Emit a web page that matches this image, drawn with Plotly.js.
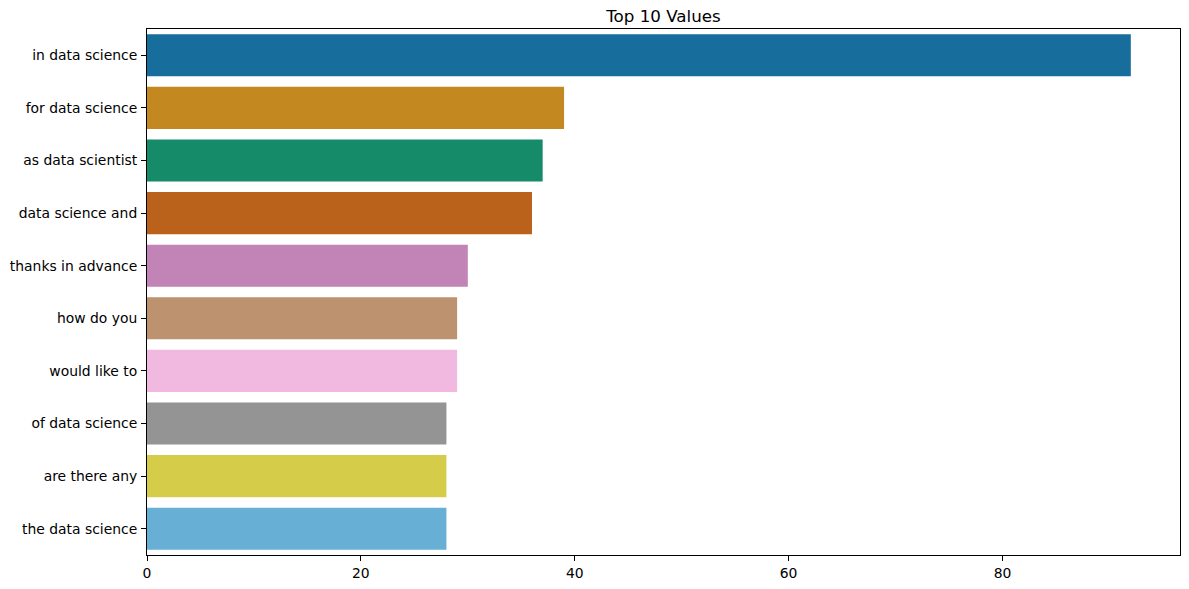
<!DOCTYPE html>
<html>
<head>
<meta charset="utf-8">
<script src="https://cdn.plot.ly/plotly-3.0.1.min.js"></script>
<style>
  html, body { margin: 0; padding: 0; background: #fff; }
  #chart { width: 1189px; height: 589px; }
</style>
</head>
<body>
<div id="chart"></div>
<script>
const categories = [
  "in data science",
  "for data science",
  "as data scientist",
  "data science and",
  "thanks in advance",
  "how do you",
  "would like to",
  "of data science",
  "are there any",
  "the data science"
];
const values = [92, 39, 37, 36, 30, 29, 29, 28, 28, 28];
const xTicks = [0, 20, 40, 60, 80];

const barColors = [
  "#176d9c", "#c38820", "#168b6a", "#ba611b", "#c283b6",
  "#bd926e", "#f1b8e0", "#949494", "#d5cd4a", "#68afd6"
];

const font = { family: "DejaVu Sans, sans-serif", size: 13.9, color: "#000" };

const trace = {
  type: "bar",
  orientation: "h",
  x: values,
  y: categories,
  marker: { color: barColors, line: { width: 0 } },
  hoverinfo: "x+y"
};

const xmax = Math.max(...values) * 1.05;

const layout = {
  width: 1189,
  height: 589,
  margin: { l: 147, r: 9, t: 29, b: 34, pad: 0 },
  paper_bgcolor: "#fff",
  plot_bgcolor: "#fff",
  font: font,
  showlegend: false,
  bargap: 0.2,
  title: {
    text: "Top 10 Values",
    font: { family: "DejaVu Sans, sans-serif", size: 16.7, color: "#000" },
    x: 0.5, xref: "paper", xanchor: "center",
    y: 1 - 16 / 589, yref: "container", yanchor: "middle"
  },
  xaxis: {
    range: [0, xmax],
    tickmode: "array",
    tickvals: xTicks,
    ticktext: xTicks.map(String),
    ticks: "outside",
    ticklen: 5,
    tickwidth: 1,
    tickcolor: "#000",
    showline: true,
    linecolor: "#000",
    linewidth: 1,
    mirror: true,
    showgrid: false,
    zeroline: false,
    tickfont: font
  },
  yaxis: {
    type: "category",
    categoryorder: "array",
    categoryarray: categories,
    range: [categories.length - 0.5, -0.5],
    ticks: "outside",
    ticklen: 5,
    tickwidth: 1,
    tickcolor: "#000",
    ticklabelstandoff: 1,
    showline: true,
    linecolor: "#000",
    linewidth: 1,
    mirror: true,
    showgrid: false,
    zeroline: false,
    tickfont: font
  }
};

Plotly.newPlot("chart", [trace], layout, { displayModeBar: false, staticPlot: false });
</script>
</body>
</html>
